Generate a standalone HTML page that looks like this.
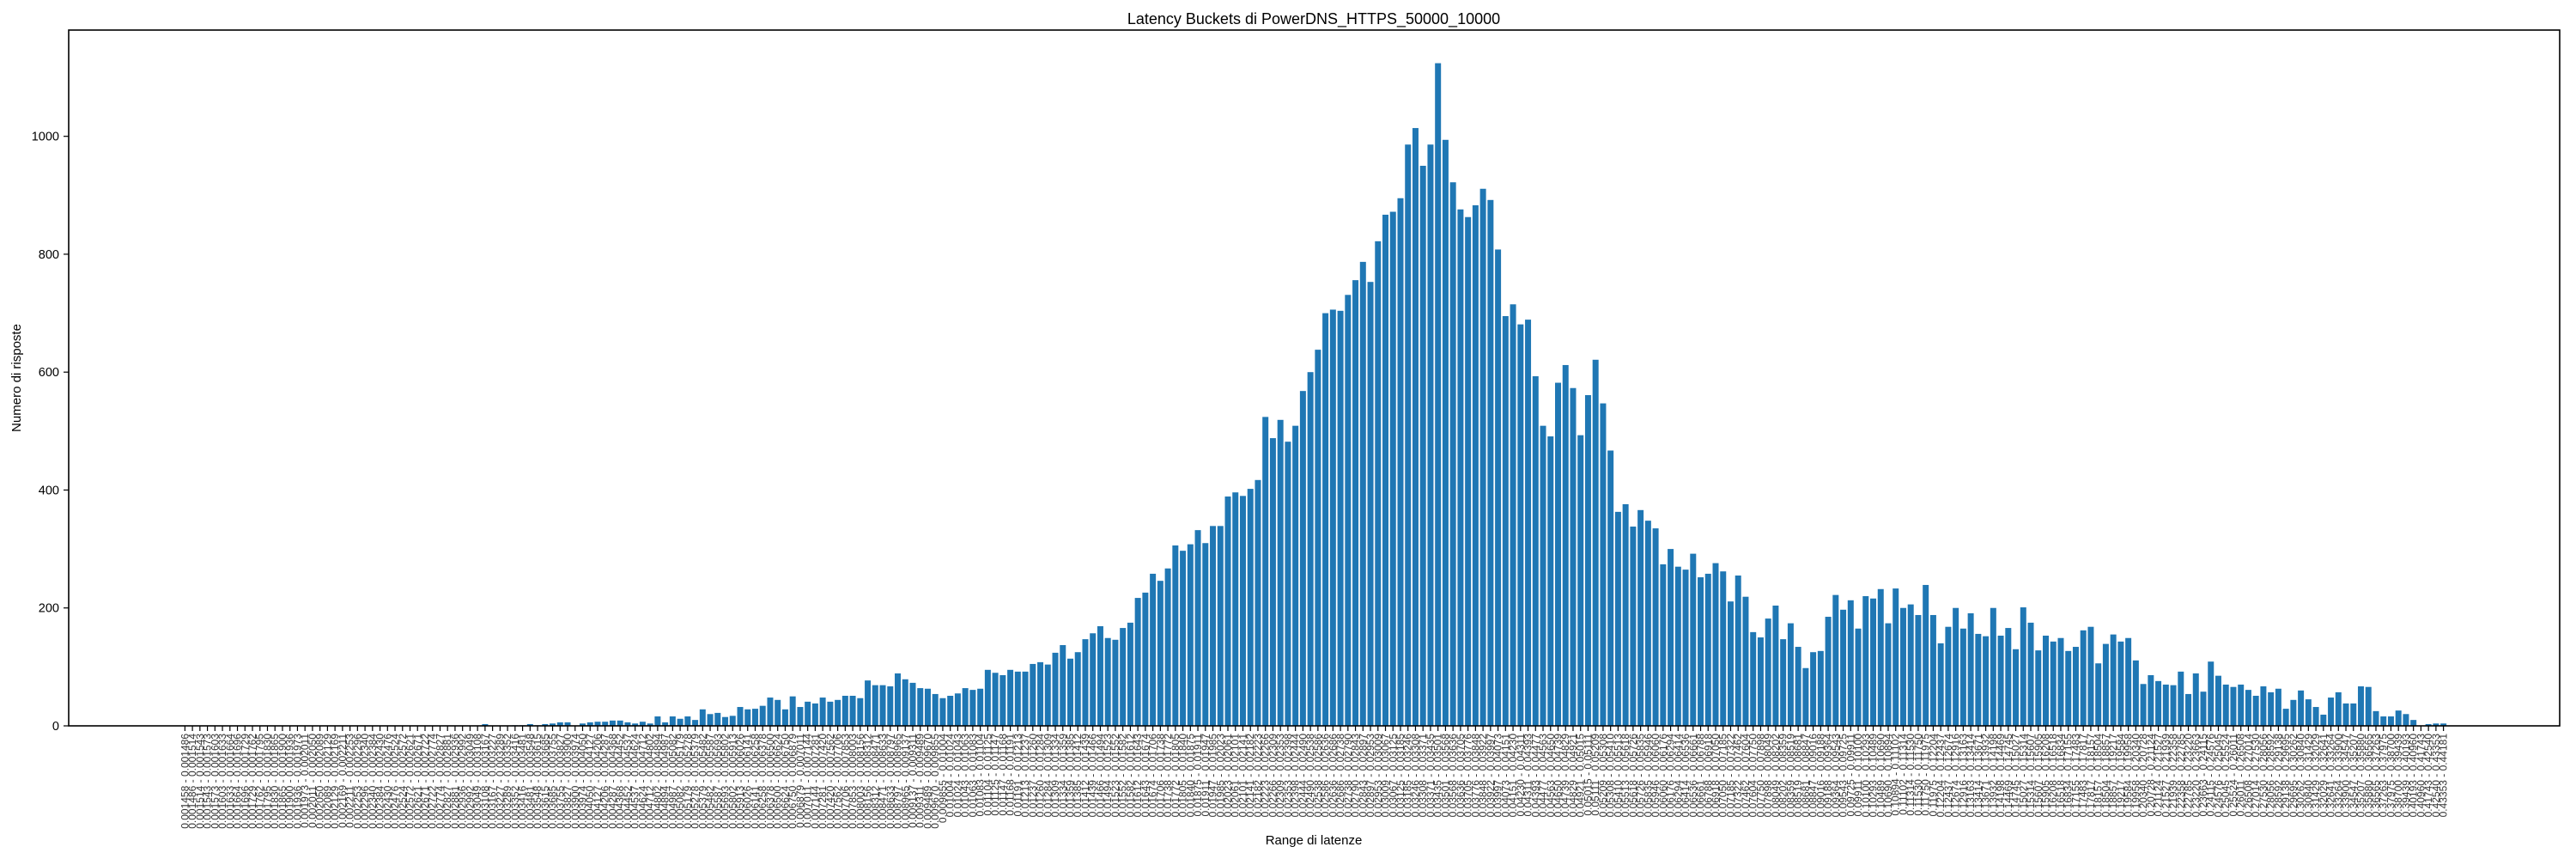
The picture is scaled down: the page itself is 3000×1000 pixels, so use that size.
<!DOCTYPE html>
<html><head><meta charset="utf-8"><style>
html,body{margin:0;padding:0;background:#fff;}
svg{display:block;font-family:"Liberation Sans",sans-serif;}
</style></head><body>
<svg id="chart" width="3000" height="1000" viewBox="0 0 3000 1000" xmlns="http://www.w3.org/2000/svg">
<rect width="3000" height="1000" fill="#fff"/>
<text x="1530" y="28" font-size="18" text-anchor="middle">Latency Buckets di PowerDNS_HTTPS_50000_10000</text>
<text transform="translate(24,440) rotate(-90)" font-size="15" text-anchor="middle">Numero di risposte</text>
<text x="1530" y="983" font-size="15" text-anchor="middle">Range di latenze</text>
<g id="bars"></g>
<g id="xticks"></g>
<g id="yticks"></g>
<rect x="80" y="35" width="2901" height="810" fill="none" stroke="#000" stroke-width="1.6"/>
</svg>
<script>
const counts = [
0,0,0,0,0,0,0,0,0,0,0,0,0,0,0,0,0,0,0,0,0,0,0,0,0,0,0,0,0,0,0,0,0,0,0,
0,0,0,0,0,3,0,0,0,1,1,3,1,3,4,6,6,0,4,6,7,7,9,9,6,4,7,4,16,6,16,12,16,10,28,20,22,15,17,32,28,29,34,48,44,28,50,32,41,38,48,41,44,
51,51,47,77,69,69,67,89,79,73,64,63,54,47,51,55,64,61,63,95,90,86,95,92,92,105,108,104,124,137,114,125,147,157,169,149,146,166,175,217,226,258,246,267,306,297,308,332,
310,339,339,389,396,390,402,417,524,488,519,482,509,568,600,638,700,706,704,731,756,787,753,822,867,872,895,986,1014,950,986,1124,994,922,876,863,883,911,892,808,695,715,681,689,593,509,
491,582,612,573,493,561,621,547,467,363,376,338,366,348,335,274,300,270,265,292,252,258,276,262,211,255,219,159,150,182,204,147,174,134,98,125,127,185,222,197,213,165,220,216,232,174,233,200,206,188,239,
188,140,168,200,165,191,156,152,200,153,166,130,201,175,128,153,143,149,127,134,162,168,106,139,155,143,149,111,71,86,76,70,69,92,54,89,58,109,85,70,66,70,61,51,67,57,63,29,44,60,45,32,19,48,57,38,38,67,66,25,16,16,26,20,10,0,3,4,4
];
const firstEdge = [0.001458];
const edgeRatio = [1.0191];
const yTicks = [0,200,400,600,800,1000];

const NS = "http://www.w3.org/2000/svg";
const X0 = 80, X1 = 2981, Y0 = 845, Y1 = 35;
const n = counts.length;
const xmin = -0.4 - 0.05*(n-0.2), xmax = (n-1)+0.4 + 0.05*(n-0.2);
const ymax = Math.max(...counts)*1.05;
function xs(i){ return X0 + (i - xmin)/(xmax - xmin)*(X1 - X0); }
function ys(v){ return Y0 - v/ymax*(Y0 - Y1); }
const pxPerUnit = (X1-X0)/(xmax-xmin);

const edges = [firstEdge[0]];
for (let i=0;i<n;i++) edges.push(edges[i]*edgeRatio[0]);
function fmt(v){ return v < 0.01 ? v.toFixed(6) : v.toFixed(5); }
const labels = counts.map((c,i)=> fmt(edges[i]) + " - " + fmt(edges[i+1]));

const gb = document.getElementById('bars');
const gx = document.getElementById('xticks');
const gy = document.getElementById('yticks');
counts.forEach((v,i)=>{
  const r = document.createElementNS(NS,'rect');
  const w = 0.8*pxPerUnit;
  r.setAttribute('x', xs(i)-w/2);
  r.setAttribute('y', ys(v));
  r.setAttribute('width', w);
  r.setAttribute('height', Y0 - ys(v));
  r.setAttribute('fill', '#1f77b4');
  
  
  gb.appendChild(r);
  const t = document.createElementNS(NS,'line');
  t.setAttribute('x1', xs(i)); t.setAttribute('x2', xs(i));
  t.setAttribute('y1', Y0); t.setAttribute('y2', Y0+6);
  t.setAttribute('stroke', '#000'); t.setAttribute('stroke-width', '1.2');
  
  
  gx.appendChild(t);
  const tx = document.createElementNS(NS,'text');
  tx.setAttribute('transform', 'translate(' + (xs(i)+4) + ',' + (Y0+9) + ') rotate(-90)');
  tx.setAttribute('font-size', '12');
  tx.setAttribute('text-anchor', 'end');
  tx.setAttribute('fill', '#333');
  tx.textContent = labels[i];
  
  
  gx.appendChild(tx);
});
yTicks.forEach(v=>{
  const t = document.createElementNS(NS,'line');
  t.setAttribute('x1', X0-6); t.setAttribute('x2', X0);
  t.setAttribute('y1', ys(v)); t.setAttribute('y2', ys(v));
  t.setAttribute('stroke', '#000'); t.setAttribute('stroke-width', '1.2');
  
  
  gy.appendChild(t);
  const tx = document.createElementNS(NS,'text');
  tx.setAttribute('x', X0-11); tx.setAttribute('y', ys(v)+5);
  tx.setAttribute('font-size', '14.5');
  tx.setAttribute('text-anchor', 'end');
  tx.textContent = v;
  
  
  gy.appendChild(tx);
});
</script>
</body></html>
